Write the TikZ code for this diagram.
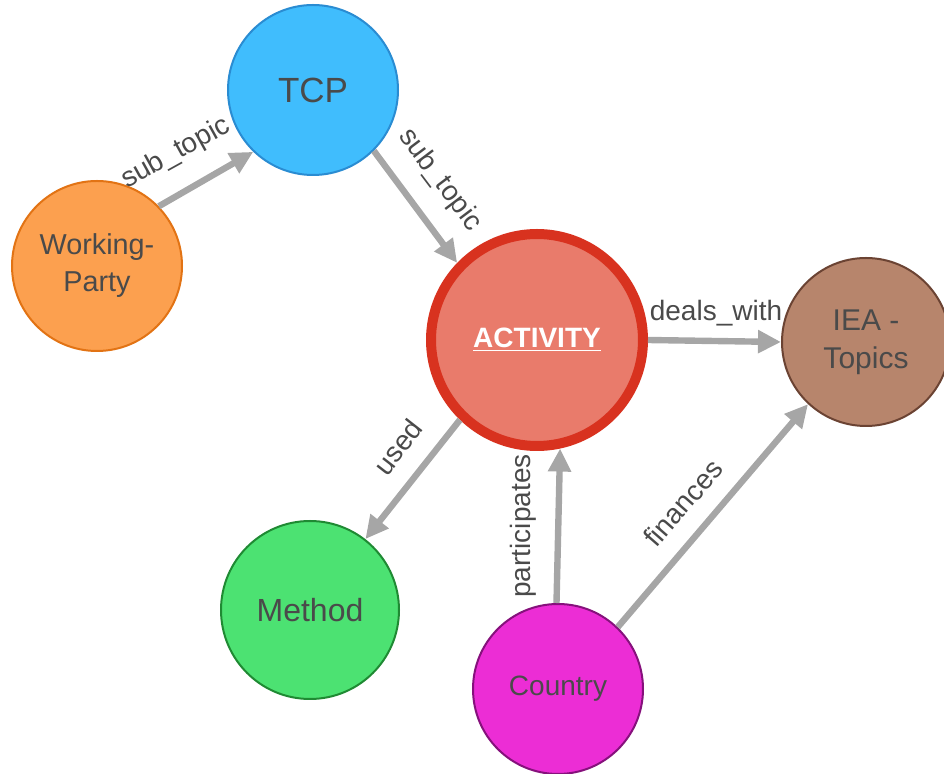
\documentclass[tikz,border=0pt]{standalone}
\usepackage{fontspec}
\setmainfont{Liberation Sans}
\usepackage{tikz}
\usetikzlibrary{arrows.meta}
\definecolor{txtgray}{HTML}{4A4A4A}
\definecolor{relgray}{HTML}{A6A6A6}
\definecolor{tcpblue}{HTML}{40BDFD}
\definecolor{tcpedge}{HTML}{2A8CD2}
\definecolor{wporange}{HTML}{FCA04F}
\definecolor{wpedge}{HTML}{E27314}
\definecolor{actred}{HTML}{E97B6B}
\definecolor{actedge}{HTML}{D8321F}
\definecolor{ieabrown}{HTML}{B7856C}
\definecolor{ieaedge}{HTML}{6B4333}
\definecolor{methgreen}{HTML}{4CE272}
\definecolor{methedge}{HTML}{1F8A33}
\definecolor{ctrymag}{HTML}{EC2DD5}
\definecolor{ctryedge}{HTML}{86117C}
\newcommand{\lblfont}   {\fontsize{14}{17}\selectfont}

\begin{document}
\begin{tikzpicture}[x=0.5pt,y=-0.5pt,
    ent/.style={circle,draw,line width=1pt,text=txtgray,align=center,inner sep=0pt},
    rel/.style={line width=3.2pt,draw=relgray,-{Triangle[length=11.5pt,width=11pt]}},
    lbl/.style={text=txtgray,font=\lblfont,inner sep=0pt}]
     \useasboundingbox (0,0) rectangle (944,774);
     % entities
     \node[ent,fill=tcpblue,draw=tcpedge,minimum size=85pt,
       font=\fontsize{17.5}{21}\selectfont] (tcp) at (313,90) {TCP};
     \node[ent,fill=wporange,draw=wpedge,minimum size=85pt,
       font=\fontsize{14.4}{18.5}\selectfont] (wp) at (97,266) {Working-\\Party};
     \node[ent,fill=actred,draw=actedge,line width=5pt,minimum size=106pt,text=white,
       font=\fontsize{14}{17}\selectfont\bfseries] (act) at (537,340) {\underline{ACTIVITY}};
     \node[ent,fill=ieabrown,draw=ieaedge,minimum size=84pt,
       font=\fontsize{15}{19}\selectfont] (iea) at (866,342) {IEA -\\Topics};
     \node[ent,fill=methgreen,draw=methedge,minimum size=89pt,
       font=\fontsize{16}{19}\selectfont] (meth) at (310,610) {Method};
     \node[ent,fill=ctrymag,draw=ctryedge,minimum size=85pt,
       font=\fontsize{14}{17}\selectfont] (ctry) at (558,689) {Country};
     % relations
     \draw[rel] (wp.44) -- (tcp.226);
     \draw[rel] (tcp.-45) -- (act.136);
     \draw[rel] (act.0) -- (iea.180);
     \draw[rel] (act.226) -- (meth.52);
     \draw[rel] (ctry.91) -- (act.-78);
     \draw[rel] (ctry.46) -- (iea.227);
     % relation labels
     \node[lbl,rotate=29] (l_wptcp) at (176,153) {sub\_topic};
     \node[lbl,rotate=-53] (l_tcpact) at (440,180) {sub\_topic};
     \node[lbl] (l_deals) at (716,313) {deals\_with};
     \node[lbl,rotate=52] (l_used) at (398,447) {used};
     \node[lbl,rotate=90] (l_part) at (523,526) {participates};
     \node[lbl,rotate=49] (l_fin) at (683,503) {finances};
\end{tikzpicture}
\end{document}
